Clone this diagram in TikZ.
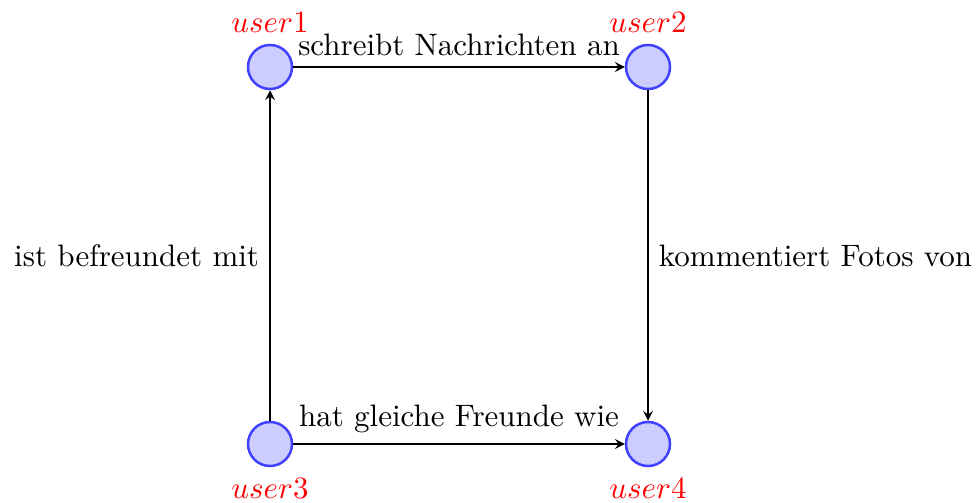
\documentclass[tikz,border=0pt]{standalone}
\usetikzlibrary{arrows}
\begin{document}
\begin{tikzpicture}[x=0.3226pt,y=-0.3226pt,
  user/.style={circle, draw=blue!75, fill=blue!20, thick, minimum size=14.2pt, inner sep=0pt},
  tag/.style={text=red},
  link/.style={-stealth}]
\useasboundingbox (0,0) rectangle (976,503);
% the four users
\node[user, label={[tag]above:$user1$}] (u1) at (270,67) {};
\node[user, label={[tag]above:$user2$}] (u2) at (648,67) {};
\node[user, label={[tag]below:$user3$}] (u3) at (270,444) {};
\node[user, label={[tag]below:$user4$}] (u4) at (648,444) {};
% relations between them
\draw[link] (u1) -- node[above]{schreibt Nachrichten an} (u2);
\draw[link] (u3) -- node[left]{ist befreundet mit} (u1);
\draw[link] (u2) -- node[right]{kommentiert Fotos von} (u4);
\draw[link] (u3) -- node[above]{hat gleiche Freunde wie} (u4);
\end{tikzpicture}
\end{document}
